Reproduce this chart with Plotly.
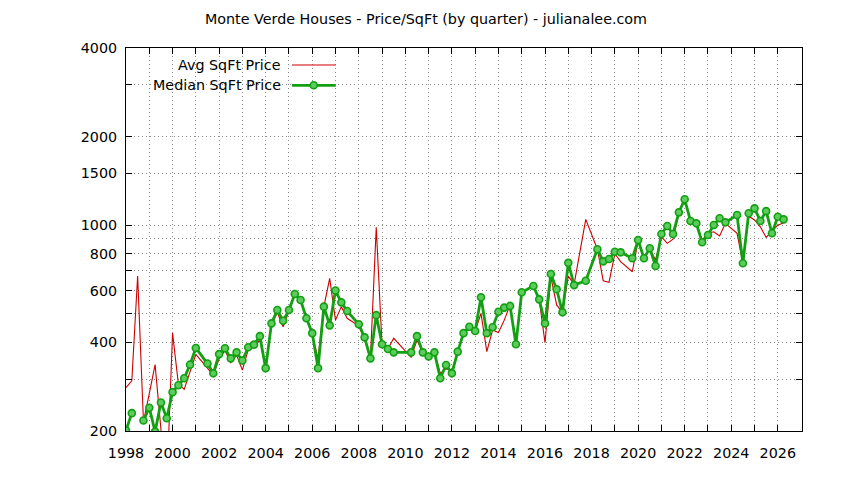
"""Monte Verde Houses - price per square foot by quarter, redrawn with Plotly."""

import plotly.graph_objects as go

TITLE = "Monte Verde Houses - Price/SqFt (by quarter) - julianalee.com"

# Average price per sqft, one value per quarter that had sales
AVG_QTR = [
    1998.0, 1998.25, 1998.5, 1998.75, 1999.0, 1999.25, 1999.5, 1999.75,
    2000.0, 2000.25, 2000.5, 2000.75, 2001.0, 2001.5, 2001.75,
    2002.0, 2002.25, 2002.5, 2002.75, 2003.0, 2003.25, 2003.5, 2003.75,
    2004.0, 2004.25, 2004.5, 2004.75, 2005.0, 2005.25, 2005.5, 2005.75,
    2006.0, 2006.25, 2006.5, 2006.75, 2007.0, 2007.25, 2007.5,
    2008.0, 2008.25, 2008.5, 2008.75, 2009.0, 2009.25, 2009.5,
    2010.25, 2010.5, 2010.75, 2011.0, 2011.25, 2011.5, 2011.75,
    2012.0, 2012.25, 2012.5, 2012.75, 2013.0, 2013.25, 2013.5, 2013.75,
    2014.0, 2014.25, 2014.5, 2014.75, 2015.0, 2015.5, 2015.75,
    2016.0, 2016.25, 2016.5, 2016.75, 2017.0, 2017.25, 2017.75,
    2018.25, 2018.5, 2018.75, 2019.0, 2019.25, 2019.75,
    2020.0, 2020.25, 2020.5, 2020.75, 2021.0, 2021.25, 2021.5, 2021.75,
    2022.0, 2022.25, 2022.5, 2022.75, 2023.0, 2023.25, 2023.5, 2023.75,
    2024.25, 2024.5, 2024.75, 2025.0, 2025.25, 2025.5, 2025.75,
    2026.0, 2026.25,
]
AVG_PRICE = [
    281, 296, 672, 215, 268, 336, 203, 130,
    430, 289, 277, 318, 364, 327, 309,
    352, 375, 341, 362, 322, 378, 393, 407,
    327, 460, 505, 452, 510, 580, 555, 490,
    425, 353, 529, 660, 476, 529, 483,
    455, 410, 353, 984, 390, 380, 413,
    356, 407, 370, 358, 370, 314, 325,
    322, 370, 430, 445, 437, 502, 372, 441,
    432, 476, 536, 394, 592, 622, 560,
    399, 668, 536, 506, 672, 630, 1047,
    829, 648, 640, 800, 752, 695,
    885, 775, 830, 762, 915, 868, 896, 1095,
    1220, 1034, 1005, 891, 940, 950, 919, 1015,
    939, 743, 1075, 1042, 988, 909, 955,
    1000, 1020,
]

# Median price per sqft (None = no usable median, line breaks there)
MED_QTR = [
    1998.0, 1998.25, 1998.5, 1998.75, 1999.0, 1999.25, 1999.5, 1999.75,
    2000.0, 2000.25, 2000.5, 2000.75, 2001.0, 2001.5, 2001.75,
    2002.0, 2002.25, 2002.5, 2002.75, 2003.0, 2003.25, 2003.5, 2003.75,
    2004.0, 2004.25, 2004.5, 2004.75, 2005.0, 2005.25, 2005.5, 2005.75,
    2006.0, 2006.25, 2006.5, 2006.75, 2007.0, 2007.25, 2007.5,
    2008.0, 2008.25, 2008.5, 2008.75, 2009.0, 2009.25, 2009.5,
    2010.25, 2010.5, 2010.75, 2011.0, 2011.25, 2011.5, 2011.75,
    2012.0, 2012.25, 2012.5, 2012.75, 2013.0, 2013.25, 2013.5, 2013.75,
    2014.0, 2014.25, 2014.5, 2014.75, 2015.0, 2015.5, 2015.75,
    2016.0, 2016.25, 2016.5, 2016.75, 2017.0, 2017.25, 2017.75,
    2018.25, 2018.5, 2018.75, 2019.0, 2019.25, 2019.75,
    2020.0, 2020.25, 2020.5, 2020.75, 2021.0, 2021.25, 2021.5, 2021.75,
    2022.0, 2022.25, 2022.5, 2022.75, 2023.0, 2023.25, 2023.5, 2023.75,
    2024.25, 2024.5, 2024.75, 2025.0, 2025.25, 2025.5, 2025.75,
    2026.0, 2026.25,
]
MED_PRICE = [
    201, 230, None, 217, 240, 199, 250, 221,
    271, 286, 302, 336, 383, 339, 314,
    365, 382, 353, 370, 347, 385, 393, 420,
    327, 464, 515, 474, 515, 584, 557, 483,
    430, 327, 529, 457, 600, 547, 511,
    461, 416, 353, 495, 394, 380, 370,
    370, 420, 370, 358, 370, 302, 335,
    314, 372, 430, 452, 437, 569, 430, 450,
    508, 525, 532, 394, 592, 622, 560,
    464, 683, 606, 506, 745, 626, 648,
    829, 754, 768, 813, 809, 772,
    891, 772, 835, 727, 934, 994, 934, 1106,
    1225, 1034, 1015, 875, 926, 1002, 1056, 1023,
    1083, 743, 1098, 1141, 1034, 1117, 939,
    1069, 1047,
]

Y_GRID = [200, 300, 400, 500, 600, 700, 800, 900, 1000, 1500, 2000, 3000, 4000]
Y_LABELED = [200, 400, 600, 800, 1000, 1500, 2000, 4000]
X_GRID = list(range(1998, 2027))

RED = "#cc0000"
GREEN = "#12a012"
FONT = "DejaVu Sans"
FS = 14.3


def main():
    fig = go.Figure()
    fig.add_scatter(x=AVG_QTR, y=AVG_PRICE, mode="lines", name="Avg SqFt Price",
                    line=dict(color=RED, width=1.1))
    fig.add_scatter(x=MED_QTR, y=MED_PRICE, mode="lines+markers",
                    name="Median SqFt Price", connectgaps=False,
                    line=dict(color=GREEN, width=2.8),
                    marker=dict(symbol="circle", size=7, color="#5ccc5c",
                                line=dict(color=GREEN, width=1.6)))

    # gnuplot-style key: text right-aligned, sample to its right, opaque box
    fig.add_shape(type="rect", xref="paper", yref="paper", x0=0.002, x1=0.32,
                  y0=0.877, y1=0.997, fillcolor="white", line_width=0,
                  layer="between")
    for yk, label, color, width in [(0.9556, "Avg SqFt Price", RED, 1.1),
                                    (0.9026, "Median SqFt Price", GREEN, 2.8)]:
        fig.add_annotation(x=0.2318, y=yk, xref="paper", yref="paper",
                           text=label, showarrow=False, xanchor="right",
                           yanchor="middle", font=dict(size=FS, color="black"))
        fig.add_shape(type="line", xref="paper", yref="paper", x0=0.2456,
                      x1=0.3103, y0=yk, y1=yk, line=dict(color=color, width=width))
    fig.add_shape(type="circle", xref="paper", yref="paper", x0=0.2725,
                  x1=0.2829, y0=0.8935, y1=0.9117, fillcolor="#5ccc5c",
                  line=dict(color=GREEN, width=1.6))

    # page body has an 8px margin, so the figure is 8px smaller each way
    fig.update_layout(
        width=836, height=472,
        margin=dict(l=118, r=42, t=40, b=49),
        paper_bgcolor="white", plot_bgcolor="white",
        font=dict(family=FONT, size=FS, color="black"),
        showlegend=False,
        title=dict(text=TITLE, x=0.5, xref="container", xanchor="center",
                   y=0.977, yanchor="middle", font=dict(size=FS)),
    )
    grid = dict(showgrid=True, gridcolor="#8c8c8c", griddash="1px,3px",
                gridwidth=1, zeroline=False, automargin=False,
                ticks="inside", ticklen=6, tickcolor="black",
                showline=True, linecolor="black", linewidth=1, mirror="ticks")
    fig.update_xaxes(
        range=[1998, 2027.04], tickvals=X_GRID,
        ticktext=[str(y) if y % 2 == 0 else "" for y in X_GRID],
        ticklabelstandoff=9, **grid,
    )
    fig.update_yaxes(
        type="log", range=[2.30103, 3.60206], tickvals=Y_GRID,
        ticktext=[str(v) if v in Y_LABELED else "" for v in Y_GRID],
        ticklabelstandoff=5, **grid,
    )
    fig.write_html("out.html")


if __name__ == "__main__":
    main()
